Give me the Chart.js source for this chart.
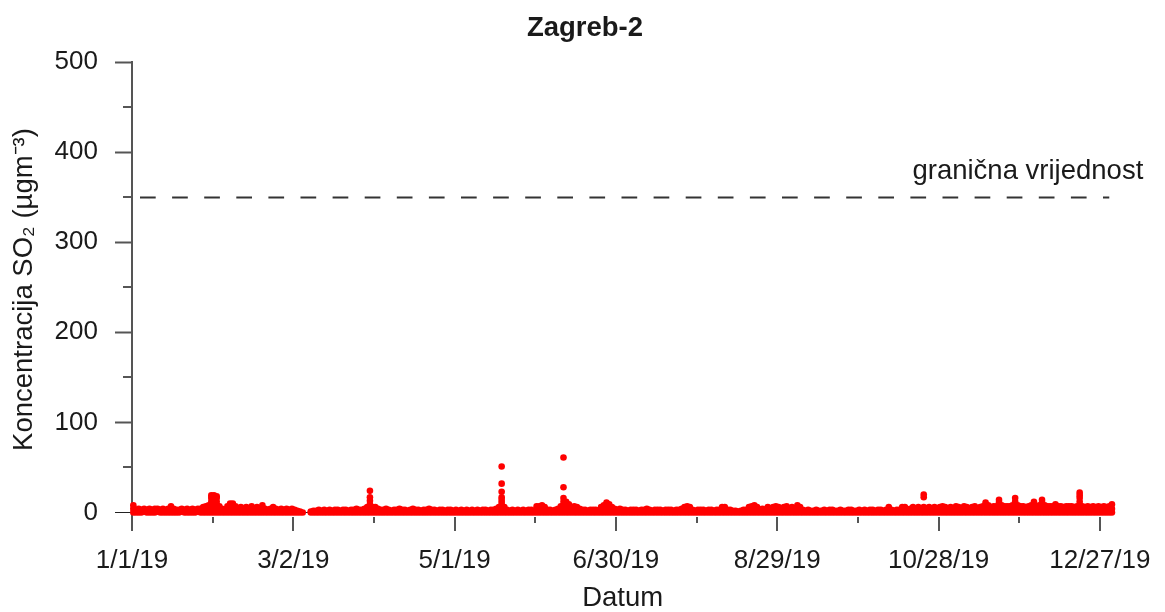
<!DOCTYPE html>
<html>
<head>
<meta charset="utf-8">
<script src="https://cdn.jsdelivr.net/npm/chart.js@4/dist/chart.umd.min.js"></script>
<style>
    html, body { margin: 0; padding: 0; background: #fff; }
</style>
</head>
<body>
<canvas id="chart" width="1165" height="612"></canvas>
<script>
const chartTitle = 'Zagreb-2';
const xTitle = 'Datum';
const yTitle = 'Koncentracija SO₂ (µgm⁻³)';
const limitLabel = 'granična vrijednost';
const limitValue = 350;

const yMajorTicks = [0, 100, 200, 300, 400, 500];
const yMinorTicks = [50, 150, 250, 350, 450];
const xMajorTicks = [0, 60, 120, 180, 240, 300, 360];   // days since 1/1/19
const xMinorTicks = [30, 90, 150, 210, 270, 330];

// readings per day, one token per day, each char is a value in base 36, '-' = no data
const monthReadings = [
    '048 03 04 03 14 03 04 03 04 14 03 04 03 04 037 04 03 03 14 03 04 03 04 03 14 04 036 047 048 048cgj 048cgj',
    '048cgi 047 04 03 047 048a 048a 037 04 036 04 036 04 037 04 036 04 048 04 03 04 036 04 03 04 03 04 03',
    '04 03 02 01 0 - - 01 02 02 03 02 03 02 03 02 03 03 02 03 03 02 03 03 04 03 03 04 036 0369dho 036',
    '036 04 03 03 04 03 02 03 03 04 03 03 02 03 04 03 03 02 03 03 04 03 03 02 03 03 02 03 03 02',
    '03 02 03 02 03 02 03 02 03 02 03 03 02 03 03 04 036 048behnw 036 03 02 03 02 03 02 03 02 03 03 02 037',
    '037 048 036 03 03 02 03 04 037 048cgs 048c 0369 036 037 036 04 03 03 02 03 03 03 02 036 048 048b 0369 036 04 03',
    '04 03 03 02 03 03 03 02 03 03 04 03 02 03 03 03 02 03 03 03 02 03 03 04 036 047 036 03 02 03 03',
    '03 02 03 03 02 03 03 036 036 03 03 02 02 01 02 03 03 036 047 048 036 03 04 03 036 04 036 047 036 03 036',
    '047 03 036 04 048 036 03 02 03 02 02 03 02 02 03 02 03 03 02 02 03 02 02 03 03 02 02 03 02 03',
    '02 03 03 02 03 03 02 03 036 03 02 03 03 036 036 03 04 036 04 036 04 036hk 04 036 04 036 04 036 037 036 04',
    '036 04 037 036 04 037 036 04 036 037 04 036 037 048b 048 036 037 047 048be 048 037 047 037 048 048cg 048 047 037 036 047',
    '048 048c 047 048 048be 048 037 047 037 049 047 037 036 047 037 047 036 047 048cgjm 047 036 037 036 037 036 037 036 037 036 047 049'
];
const peakDays = [137, 160];
const peakValues = [51, 61];

const FONT = "'Liberation Sans', Arial, sans-serif";
const TEXT = '#1a1a1a';
const AXIS = '#555';

const points = [];
let day = 0;
monthReadings.forEach(month => {
    month.split(' ').forEach(tok => {
        if (tok !== '-') {
            for (const c of tok) points.push({ x: day + 0.5, y: parseInt(c, 36) });
        }
        day++;
    });
});
peakDays.forEach((d, i) => points.push({ x: d + 0.5, y: peakValues[i] }));

function dayLabel(v) {
    const d = new Date(2019, 0, 1 + v);
    return (d.getMonth() + 1) + '/' + d.getDate() + '/19';
}

const extras = {
    id: 'extras',
    afterDraw(chart) {
        const { ctx, chartArea, scales } = chart;
        ctx.save();
        // minor ticks
        ctx.strokeStyle = AXIS;
        ctx.lineWidth = 2;
        yMinorTicks.forEach(v => {
            const py = Math.round(scales.y.getPixelForValue(v));
            ctx.beginPath();
            ctx.moveTo(chartArea.left - 9, py);
            ctx.lineTo(chartArea.left, py);
            ctx.stroke();
        });
        xMinorTicks.forEach(v => {
            const px = Math.round(scales.x.getPixelForValue(v));
            ctx.beginPath();
            ctx.moveTo(px, chartArea.bottom);
            ctx.lineTo(px, chartArea.bottom + 6);
            ctx.stroke();
        });
        // limit line
        const ly = Math.round(scales.y.getPixelForValue(limitValue)) + 0.5;
        ctx.strokeStyle = '#333';
        ctx.lineWidth = 1.8;
        ctx.setLineDash([15.7, 16.4]);
        ctx.beginPath();
        ctx.moveTo(chartArea.left + 8, ly);
        ctx.lineTo(chartArea.right - 4, ly);
        ctx.stroke();
        ctx.setLineDash([]);
        ctx.fillStyle = TEXT;
        ctx.font = '27.5px ' + FONT;
        ctx.textAlign = 'right';
        ctx.textBaseline = 'alphabetic';
        ctx.fillText(limitLabel, chartArea.right + 30, ly - 19);
        // title
        ctx.font = 'bold 27.5px ' + FONT;
        ctx.textAlign = 'center';
        ctx.fillText(chartTitle, 585, 36);
        ctx.restore();
    }
};

new Chart(document.getElementById('chart'), {
    type: 'scatter',
    data: {
        datasets: [{
            data: points,
            backgroundColor: '#ff0000',
            borderWidth: 0,
            pointRadius: 3.3,
            pointHoverRadius: 3.3,
            clip: false
        }]
    },
    options: {
        responsive: false,
        animation: false,
        devicePixelRatio: 1,
        layout: { padding: { top: 62, right: 41, left: 0, bottom: 0 } },
        plugins: {
            legend: { display: false },
            tooltip: { enabled: false }
        },
        scales: {
            x: {
                type: 'linear',
                min: 0,
                max: 365,
                afterBuildTicks: scale => { scale.ticks = xMajorTicks.map(v => ({ value: v })); },
                afterFit: scale => { scale.height = 95; },
                ticks: {
                    callback: v => dayLabel(v),
                    font: { family: FONT, size: 26 },
                    color: TEXT,
                    padding: 14,
                    maxRotation: 0,
                    autoSkip: false
                },
                grid: { drawOnChartArea: false, tickLength: 14, tickColor: AXIS, tickWidth: 2, lineWidth: 2 },
                border: { display: false },
                title: {
                    display: true,
                    text: xTitle,
                    color: TEXT,
                    font: { family: FONT, size: 27.5, lineHeight: 1 },
                    padding: { top: 0, bottom: 0 }
                }
            },
            y: {
                min: -5,
                max: 500,
                afterBuildTicks: scale => { scale.ticks = yMajorTicks.map(v => ({ value: v })); },
                afterFit: scale => { scale.width = 132; },
                ticks: {
                    font: { family: FONT, size: 26 },
                    color: TEXT,
                    padding: 17
                },
                grid: {
                    drawOnChartArea: true,
                    tickLength: 17,
                    color: c => (c.tick && c.tick.value === 0) ? '#222' : 'rgba(0,0,0,0)',
                    lineWidth: 1,
                    tickColor: c => (c.tick && c.tick.value === 0) ? '#222' : AXIS,
                    tickWidth: c => (c.tick && c.tick.value === 0) ? 1 : 2
                },
                border: { display: true, color: AXIS, width: 2 },
                title: {
                    display: true,
                    text: yTitle,
                    color: TEXT,
                    font: { family: FONT, size: 27.5 },
                    padding: { top: 7.5, bottom: 0 }
                }
            }
        }
    },
    plugins: [extras]
});
</script>
</body>
</html>
